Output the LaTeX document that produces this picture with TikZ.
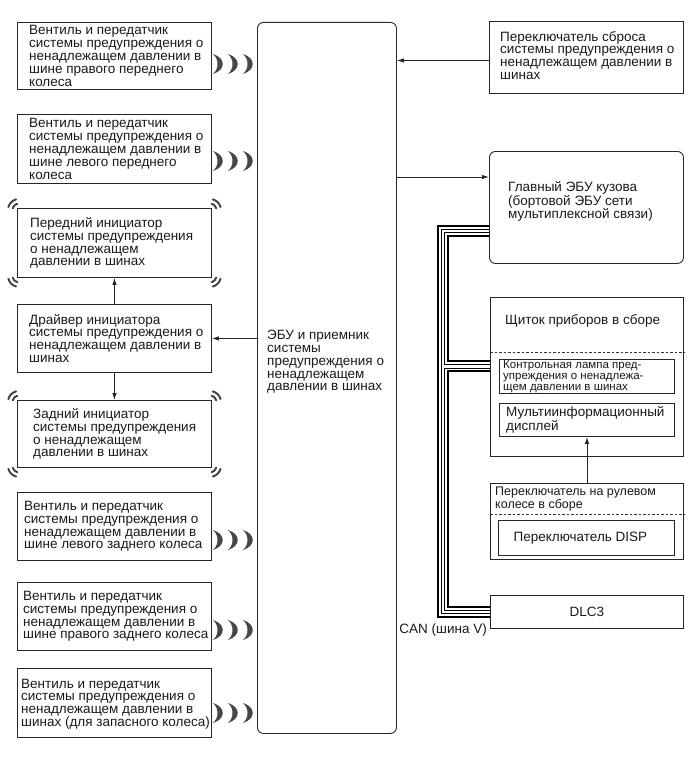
\documentclass[tikz,border=0pt]{standalone}
\usepackage{fontspec}
\setmainfont{Liberation Sans}
\usetikzlibrary{arrows.meta,calc,backgrounds}
\newcommand\cornerw[2]{%
  \pgfmathsetmacro\cwS{#2-30}\pgfmathsetmacro\cwE{#2+30}\pgfmathsetmacro\cwI{#2+180}%
  \draw[cwline] ($(#1)+(\cwI:2.8)$) ++(\cwS:11) arc[start angle=\cwS,end angle=\cwE,radius=11];
  \draw[cwline] ($(#1)+(\cwI:2.8)$) ++(\cwS:6.5) arc[start angle=\cwS,end angle=\cwE,radius=6.5];}
\begin{document}
\begin{tikzpicture}[x=1pt,y=-1pt,
  box/.style={draw=black!85, line width=0.9pt, inner sep=0pt, anchor=north west},
  rbox/.style={box, rounded corners=6pt},
  txt/.style={inner sep=0pt, align=left, anchor=west, text=black!90, font=\fontsize{13.5}{12.8}\selectfont},
  smalltxt/.style={txt, font=\fontsize{11.5}{11.2}\selectfont},
  midtxt/.style={txt, font=\fontsize{12.5}{11.5}\selectfont},
  arr/.style={-{Latex[length=7pt,width=4.5pt]}, line width=0.9pt, draw=black!85},
  dashline/.style={line width=0.8pt, draw=black!80, dash pattern=on 2.5pt off 2pt},
  cwline/.style={line width=1.9pt, draw=black!75, line cap=round},
  canbus/.style={line width=12pt, draw=black, postaction={draw, white, line width=8pt},
    postaction={draw, black, line width=4.4pt}, postaction={draw, white, line width=2.4pt}},
  crescent/.pic={\fill[black!72] (0,-10) .. controls (13,-6) and (13,6) .. (0,10) .. controls (6,5) and (6,-5) .. cycle;},
  waves/.pic={\pic at (0,0) {crescent}; \pic at (15,0) {crescent}; \pic at (30,0) {crescent};}
]
\useasboundingbox (0,0) rectangle (690,757);

% left column boxes
\node[box, minimum width=194pt, minimum height=67pt] (b1) at (17,22) {};
\node[box, minimum width=194pt, minimum height=69pt] (b2) at (17,114) {};
\node[box, minimum width=194pt, minimum height=69pt] (fi) at (17,208) {};
\node[box, minimum width=194pt, minimum height=68pt] (dr) at (17,304) {};
\node[box, minimum width=194pt, minimum height=67pt] (ri) at (17,400) {};
\node[box, minimum width=194pt, minimum height=68pt] (b6) at (17,492) {};
\node[box, minimum width=194pt, minimum height=68pt] (b7) at (17,582) {};
\node[box, minimum width=194pt, minimum height=69pt] (b8) at (17,668) {};

\node[txt] at ($(b1.west)+(12,0)$) {Вентиль и передатчик\\системы предупреждения о\\ненадлежащем давлении в\\шине правого переднего\\колеса};
\node[txt] at ($(b2.west)+(12,0)$) {Вентиль и передатчик\\системы предупреждения о\\ненадлежащем давлении в\\шине левого переднего\\колеса};
\node[txt] at ($(fi.west)+(13,0)$) {Передний инициатор\\системы предупреждения\\о ненадлежащем\\давлении в шинах};
\node[txt] at ($(dr.west)+(12,0)$) {Драйвер инициатора\\системы предупреждения о\\ненадлежащем давлении в\\шинах};
\node[txt] at ($(ri.west)+(16,0)$) {Задний инициатор\\системы предупреждения\\о ненадлежащем\\давлении в шинах};
\node[txt] at ($(b6.west)+(7,0)$) {Вентиль и передатчик\\системы предупреждения о\\ненадлежащем давлении в\\шине левого заднего колеса};
\node[txt] at ($(b7.west)+(6,0)$) {Вентиль и передатчик\\системы предупреждения о\\ненадлежащем давлении в\\шине правого заднего колеса};
\node[txt] at ($(b8.west)+(4,1)$) {Вентиль и передатчик\\системы предупреждения о\\ненадлежащем давлении в\\шинах (для запасного колеса)};

% radio waves
\pic at (213,64) {waves};
\pic at (213,161) {waves};
\pic at (213,540) {waves};
\pic at (213,630) {waves};
\pic at (213,713) {waves};

\cornerw{fi.north west}{225}
\cornerw{fi.north east}{315}
\cornerw{fi.south west}{135}
\cornerw{fi.south east}{45}
\cornerw{ri.north west}{225}
\cornerw{ri.north east}{315}
\cornerw{ri.south west}{135}
\cornerw{ri.south east}{45}

% central ECU
\node[rbox, minimum width=139pt, minimum height=711pt] (ecu) at (257,22) {};
\node[txt] at (267,362) {ЭБУ и приемник\\системы\\предупреждения о\\ненадлежащем\\давлении в шинах};

% right column
\node[box, minimum width=194pt, minimum height=72pt] (rst) at (489,21) {};
\node[txt] at ($(rst.west)+(11,-2)$) {Переключатель сброса\\системы предупреждения о\\ненадлежащем давлении в\\шинах};

\node[rbox, minimum width=194pt, minimum height=112pt] (bcm) at (489,151) {};
\node[txt] at ($(bcm.west)+(19,-6)$) {Главный ЭБУ кузова\\(бортовой ЭБУ сети\\мультиплексной связи)};

\node[box, minimum width=193pt, minimum height=159pt] (meter) at (490,297) {};
\node[txt] at (505,321) {Щиток приборов в сборе};
\draw[dashline] ($(meter.north west)+(0,55)$) -- ($(meter.north east)+(0,55)$);
\node[box, minimum width=175pt, minimum height=34pt] (lamp) at (499,359) {};
\node[smalltxt] at ($(lamp.west)+(4,0)$) {Контрольная лампа пред-\\упреждения о ненадлежа-\\щем давлении в шинах};
\node[box, minimum width=175pt, minimum height=33pt] (mid) at (499,403) {};
\node[txt] at ($(mid.west)+(7,0)$) {Мультиинформационный\\дисплей};

\node[box, minimum width=193pt, minimum height=76pt] (steer) at (490,483) {};
\node[midtxt] at (495,499) {Переключатель на рулевом\\колесе в сборе};
\draw[dashline] ($(steer.north west)+(0,31)$) -- ($(steer.north east)+(0,31)$);
\node[box, minimum width=176pt, minimum height=35pt] (disp) at (498,520) {};
\node[txt, anchor=center] at ($(disp.center)+(-6,0)$) {Переключатель DISP};

\node[box, minimum width=193pt, minimum height=33pt] (dlc) at (490,595) {};
\node[txt, anchor=center] at (dlc.center) {DLC3};

\node[txt, anchor=east] (canlbl) at (487,630) {CAN (шина V)};

% arrows
\coordinate (rstA) at ($(rst.west)+(0,3)$);
\draw[arr] (rstA) -- (rstA -| ecu.east);
\coordinate (bcmA) at ($(bcm.north west)+(0,26)$);
\draw[arr] (bcmA -| ecu.east) -- (bcmA);
\draw[arr] (dr.east -| ecu.west) -- (dr.east);
\draw[arr] (dr.north) -- (fi.south);
\draw[arr] (dr.south) -- (ri.north);
\draw[arr] (steer.north) -- (mid.south);

% CAN bus
\coordinate (busA) at ($(bcm.south west)+(0,-33)$);
\coordinate (busB) at ($(meter.west)+(0,-10.5)$);
\coordinate (busC) at (443,0);
\begin{scope}[on background layer]
\draw[canbus] (busA) -| (busC |- dlc.west) -- (dlc.west)
  (busC |- busB) -- (busB);
\end{scope}
\end{tikzpicture}
\end{document}
